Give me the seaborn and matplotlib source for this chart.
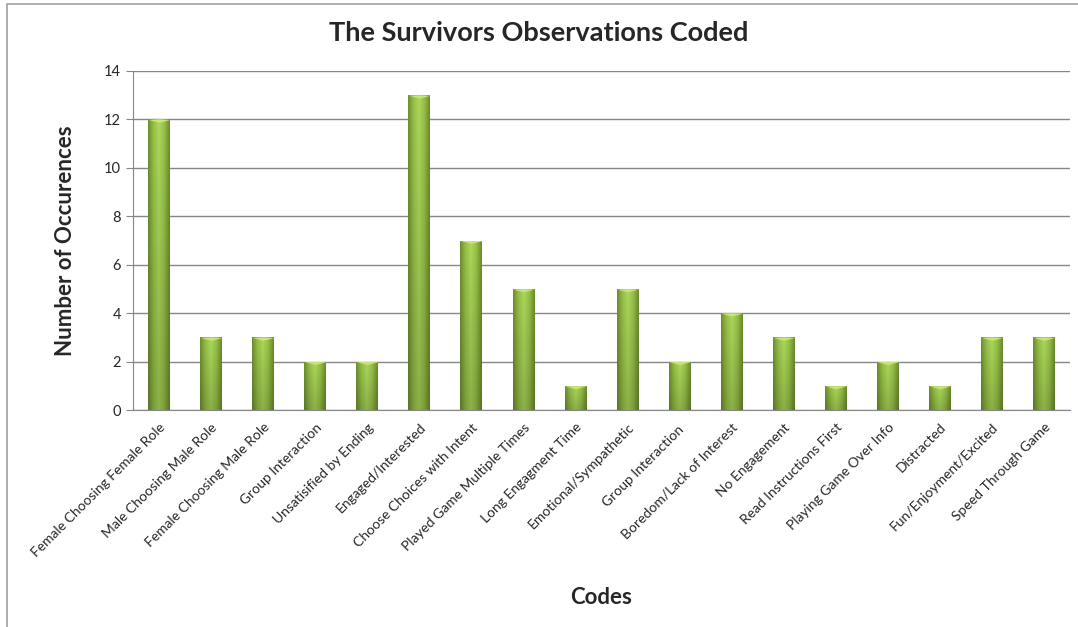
import numpy as np
import pandas as pd
import matplotlib
matplotlib.use("Agg")
import matplotlib.pyplot as plt
import seaborn as sns
from matplotlib.colors import LinearSegmentedColormap

# data
codes = ["Female Choosing Female Role", "Male Choosing Male Role", "Female Choosing Male Role",
         "Group Interaction", "Unsatisified by Ending", "Engaged/Interested",
         "Choose Choices with Intent", "Played Game Multiple Times", "Long Engagment Time",
         "Emotional/Sympathetic", "Group Interaction ", "Boredom/Lack of Interest",
         "No Engagement", "Read Instructions First", "Playing Game Over Info",
         "Distracted", "Fun/Enjoyment/Excited", "Speed Through Game"]
counts = [12, 3, 3, 2, 2, 13, 7, 5, 1, 5, 2, 4, 3, 1, 2, 1, 3, 3]
yticks = [0, 2, 4, 6, 8, 10, 12, 14]

df = pd.DataFrame({"code": codes, "count": counts})

sns.set_style("white")
plt.rcParams["font.family"] = ["Lato", "DejaVu Sans"]

fig = plt.figure(figsize=(10.78, 6.27), dpi=100)
ax = fig.add_axes([0.1234, 0.346, 0.8692, 0.5408])

sns.barplot(data=df, x="code", y="count", color="#8db43e", width=0.42, ax=ax, zorder=3)

# cylinder-like gradient on each bar
cmap = LinearSegmentedColormap.from_list("g", ["#6f8e30", "#95c046", "#acd85a", "#95c046", "#6b8a2c"])
grad = np.tile(np.linspace(0, 1, 64), (64, 1))
shade = np.linspace(0.82, 1.0, 64)[:, None, None]
rgb = cmap(grad)[:, :, :3] * shade
for p in ax.patches:
    x0, y0, w, h = p.get_x(), p.get_y(), p.get_width(), p.get_height()
    im = ax.imshow(rgb, extent=[x0, x0 + w, y0, y0 + h], origin="lower",
                   aspect="auto", zorder=4, interpolation="bilinear")
    im.set_clip_path(p)
    # light top cap
    ax.fill_between([x0, x0 + w * 0.5, x0 + w], [y0 + h] * 3, [y0 + h, y0 + h - 0.12, y0 + h],
                    color="#c6e57a", zorder=5, lw=0)
    p.set_edgecolor("none")

ax.set_xlim(-0.5, len(codes) - 0.5)
ax.set_ylim(0, 14)
ax.set_yticks(yticks)
ax.yaxis.grid(True, color="#868686", lw=1, zorder=0)
ax.set_axisbelow(True)

for s in ["top", "right"]:
    ax.spines[s].set_visible(False)
ax.spines["left"].set_color("#868686")
ax.spines["bottom"].set_color("#868686")

ax.set_xticks(np.arange(len(codes)))
ax.set_xticklabels(codes, rotation=45, ha="right", rotation_mode="anchor", fontsize=10)
ax.tick_params(axis="x", length=0, pad=8)
ax.set_xticks(np.arange(-0.5, len(codes), 1), minor=True)
ax.tick_params(axis="x", which="minor", length=5, color="#868686", direction="out")
ax.tick_params(axis="y", length=5, color="#868686", direction="out", labelsize=10.5, left=True)

ax.set_xlabel("Codes", fontsize=16, fontweight="bold", labelpad=20)
ax.set_ylabel("Number of Occurences", fontsize=16, fontweight="bold", labelpad=20)
fig.suptitle("The Survivors Observations Coded", fontsize=19.5, fontweight="bold", y=0.967)

# outer chart frame (left and top edges visible)
fig.patches.append(plt.Rectangle((0.0065, -0.1), 1.2, 1.0936, transform=fig.transFigure,
                                 fill=False, edgecolor="#a0a0a0", lw=1.2))

fig.savefig("out.png", dpi=100)
